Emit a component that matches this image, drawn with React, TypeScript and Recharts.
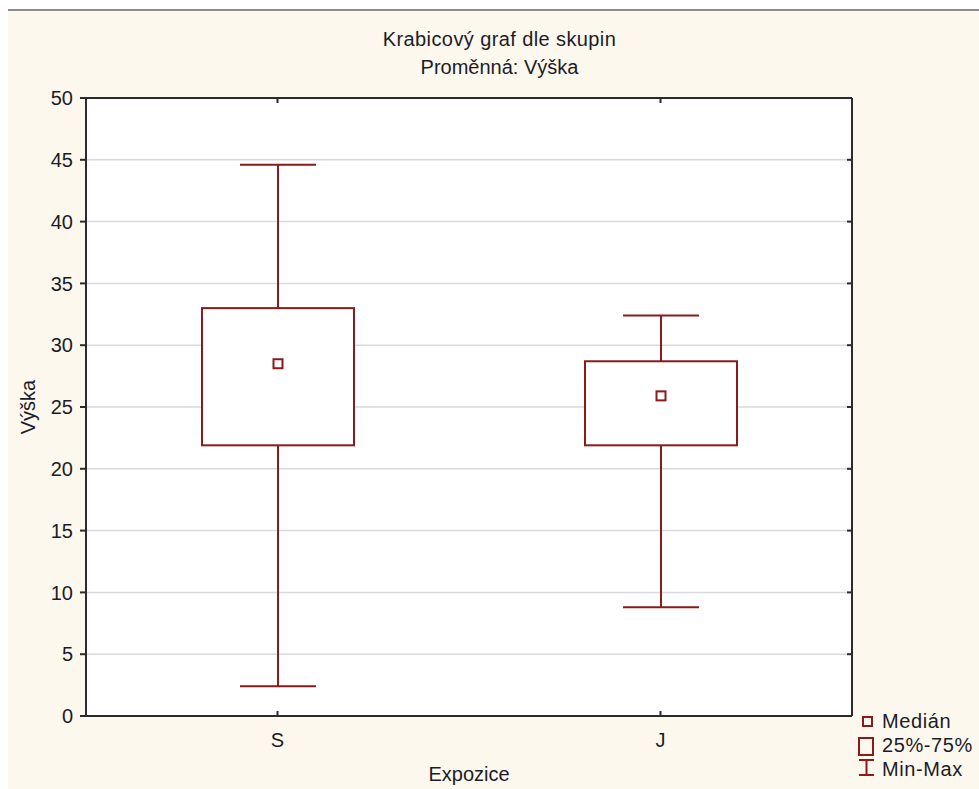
import {
  ComposedChart,
  Bar,
  XAxis,
  YAxis,
  CartesianGrid,
} from "recharts";

const groups = ["S", "J"];
const minValues = [2.4, 8.8];
const q1Values = [21.9, 21.9];
const medianValues = [28.5, 25.9];
const q3Values = [33.0, 28.7];
const maxValues = [44.6, 32.4];
const yTicks = [0, 5, 10, 15, 20, 25, 30, 35, 40, 45, 50];
const legendLabels = ["Medián", "25%-75%", "Min-Max"];

const chartData = groups.map((name, i) => ({
  name,
  min: minValues[i],
  q1: q1Values[i],
  median: medianValues[i],
  q3: q3Values[i],
  max: maxValues[i],
}));

const RED = "#8b1a1a";
const AXIS = "#2b2b2b";
const TEXT = "#1c1c28";
const FONT = "Arial, 'Liberation Sans', sans-serif";

const BoxShape = (props: any) => {
  const { x, y, width, height, payload } = props;
  const top = Math.min(y, y + height);
  const h = Math.abs(height);
  const span = payload.max - payload.min;
  const py = (v: number) => top + (h * (payload.max - v)) / span;
  const cx = x + width / 2;
  const cap = width / 4;
  return (
    <g>
      <line x1={cx} x2={cx} y1={py(payload.max)} y2={py(payload.q3)} stroke={RED} strokeWidth={2} />
      <line x1={cx} x2={cx} y1={py(payload.q1)} y2={py(payload.min)} stroke={RED} strokeWidth={2} />
      <line x1={cx - cap} x2={cx + cap} y1={py(payload.max)} y2={py(payload.max)} stroke={RED} strokeWidth={2} />
      <line x1={cx - cap} x2={cx + cap} y1={py(payload.min)} y2={py(payload.min)} stroke={RED} strokeWidth={2} />
      <rect
        x={x}
        y={py(payload.q3)}
        width={width}
        height={py(payload.q1) - py(payload.q3)}
        fill="#ffffff"
        stroke={RED}
        strokeWidth={2}
      />
      <rect
        x={cx - 4.5}
        y={py(payload.median) - 4.5}
        width={9}
        height={9}
        fill="#ffffff"
        stroke={RED}
        strokeWidth={2}
      />
    </g>
  );
};

const BottomTick = (props: any) => {
  const { x, y, payload } = props;
  return (
    <g>
      <line x1={x} x2={x} y1={y} y2={y - 5} stroke={AXIS} strokeWidth={2} />
      <text x={x} y={y + 31} textAnchor="middle" fontSize={20} fill={TEXT} fontFamily={FONT}>
        {payload.value}
      </text>
    </g>
  );
};

const TopTick = (props: any) => {
  const { x, y } = props;
  return <line x1={x} x2={x} y1={y} y2={y + 5} stroke={AXIS} strokeWidth={2} />;
};

const RightTick = (props: any) => {
  const { x, y } = props;
  return <line x1={x} x2={x - 5} y1={y} y2={y} stroke={AXIS} strokeWidth={2} />;
};

const LegendIcon = ({ index }: { index: number }) => {
  const style: any = { position: "absolute", left: 0, top: 0 };
  if (index === 0) {
    return (
      <svg width={26} height={24} style={style}>
        <rect x={8} y={8} width={9} height={9} fill="none" stroke={RED} strokeWidth={2} />
      </svg>
    );
  }
  if (index === 1) {
    return (
      <svg width={26} height={24} style={style}>
        <rect x={4} y={5} width={14} height={17} fill="none" stroke={RED} strokeWidth={2} />
      </svg>
    );
  }
  return (
    <svg width={26} height={24} style={style}>
      <line x1={11.5} x2={11.5} y1={2} y2={19} stroke={RED} strokeWidth={2} />
      <line x1={4} x2={19} y1={3} y2={3} stroke={RED} strokeWidth={2} />
      <line x1={4} x2={19} y1={18} y2={18} stroke={RED} strokeWidth={2} />
    </svg>
  );
};

export default function App() {
  return (
    <div style={{ position: "absolute", left: 0, top: 0, width: 979, height: 789, background: "#ffffff", fontFamily: FONT }}>
      <div
        style={{
          position: "absolute",
          left: 8,
          top: 9,
          width: 971,
          height: 780,
          background: "#fdf8ee",
          borderTop: "2px solid #8c8c8c",
        }}
      />
      <div
        style={{
          position: "absolute",
          left: 20,
          top: 25,
          width: 959,
          textAlign: "center",
          fontSize: 20,
          lineHeight: "28px",
          color: TEXT,
        }}
      >
        <div style={{ letterSpacing: 0.4 }}>Krabicový graf dle skupin</div>
        <div>Proměnná: Výška</div>
      </div>
      <div style={{ position: "absolute", left: 0, top: 0 }}>
        <ComposedChart
          width={979}
          height={789}
          data={chartData}
          margin={{ top: 97, right: 126, bottom: 0, left: 26 }}
        >
          <CartesianGrid
            xAxisId="b"
            yAxisId="l"
            vertical={false}
            stroke="#d9d9d9"
            strokeWidth={1.5}
            fill="#ffffff"
            fillOpacity={1}
          />
          <XAxis
            xAxisId="b"
            dataKey="name"
            height={73}
            axisLine={{ stroke: AXIS, strokeWidth: 2 }}
            tickLine={false}
            tickSize={0}
            tickMargin={0}
            tick={BottomTick}
            label={{
              value: "Expozice",
              position: "insideBottom",
              offset: 8,
              fill: TEXT,
              fontSize: 20,
              fontFamily: FONT,
            }}
          />
          <XAxis
            xAxisId="t"
            orientation="top"
            dataKey="name"
            height={1}
            axisLine={{ stroke: AXIS, strokeWidth: 2 }}
            tickLine={false}
            tickSize={0}
            tickMargin={0}
            tick={TopTick}
          />
          <YAxis
            yAxisId="l"
            type="number"
            domain={[0, 50]}
            ticks={yTicks}
            width={60}
            axisLine={{ stroke: AXIS, strokeWidth: 2 }}
            tickLine={{ stroke: AXIS, strokeWidth: 2 }}
            tickSize={6}
            tickMargin={7}
            tick={{ fill: TEXT, fontSize: 20, fontFamily: FONT }}
            label={{
              value: "Výška",
              angle: -90,
              position: "insideLeft",
              offset: 2,
              fill: TEXT,
              fontSize: 20,
              fontFamily: FONT,
              style: { textAnchor: "middle" },
            }}
          />
          <YAxis
            yAxisId="r"
            orientation="right"
            type="number"
            domain={[0, 50]}
            ticks={yTicks}
            width={1}
            allowDataOverflow
            axisLine={{ stroke: AXIS, strokeWidth: 2 }}
            tickLine={false}
            tickSize={0}
            tickMargin={0}
            tick={RightTick}
          />
          <Bar
            xAxisId="b"
            yAxisId="l"
            dataKey={(d: any) => [d.min, d.max]}
            barSize={152}
            shape={BoxShape}
            isAnimationActive={false}
          />
        </ComposedChart>
      </div>
      <div style={{ position: "absolute", left: 855, top: 709, fontSize: 20, color: TEXT }}>
        {legendLabels.map((label, i) => (
          <div key={label} style={{ position: "relative", height: 24, lineHeight: "24px", paddingLeft: 27, letterSpacing: 0.6, whiteSpace: "nowrap" }}>
            <LegendIcon index={i} />
            <span>{label}</span>
          </div>
        ))}
      </div>
    </div>
  );
}
